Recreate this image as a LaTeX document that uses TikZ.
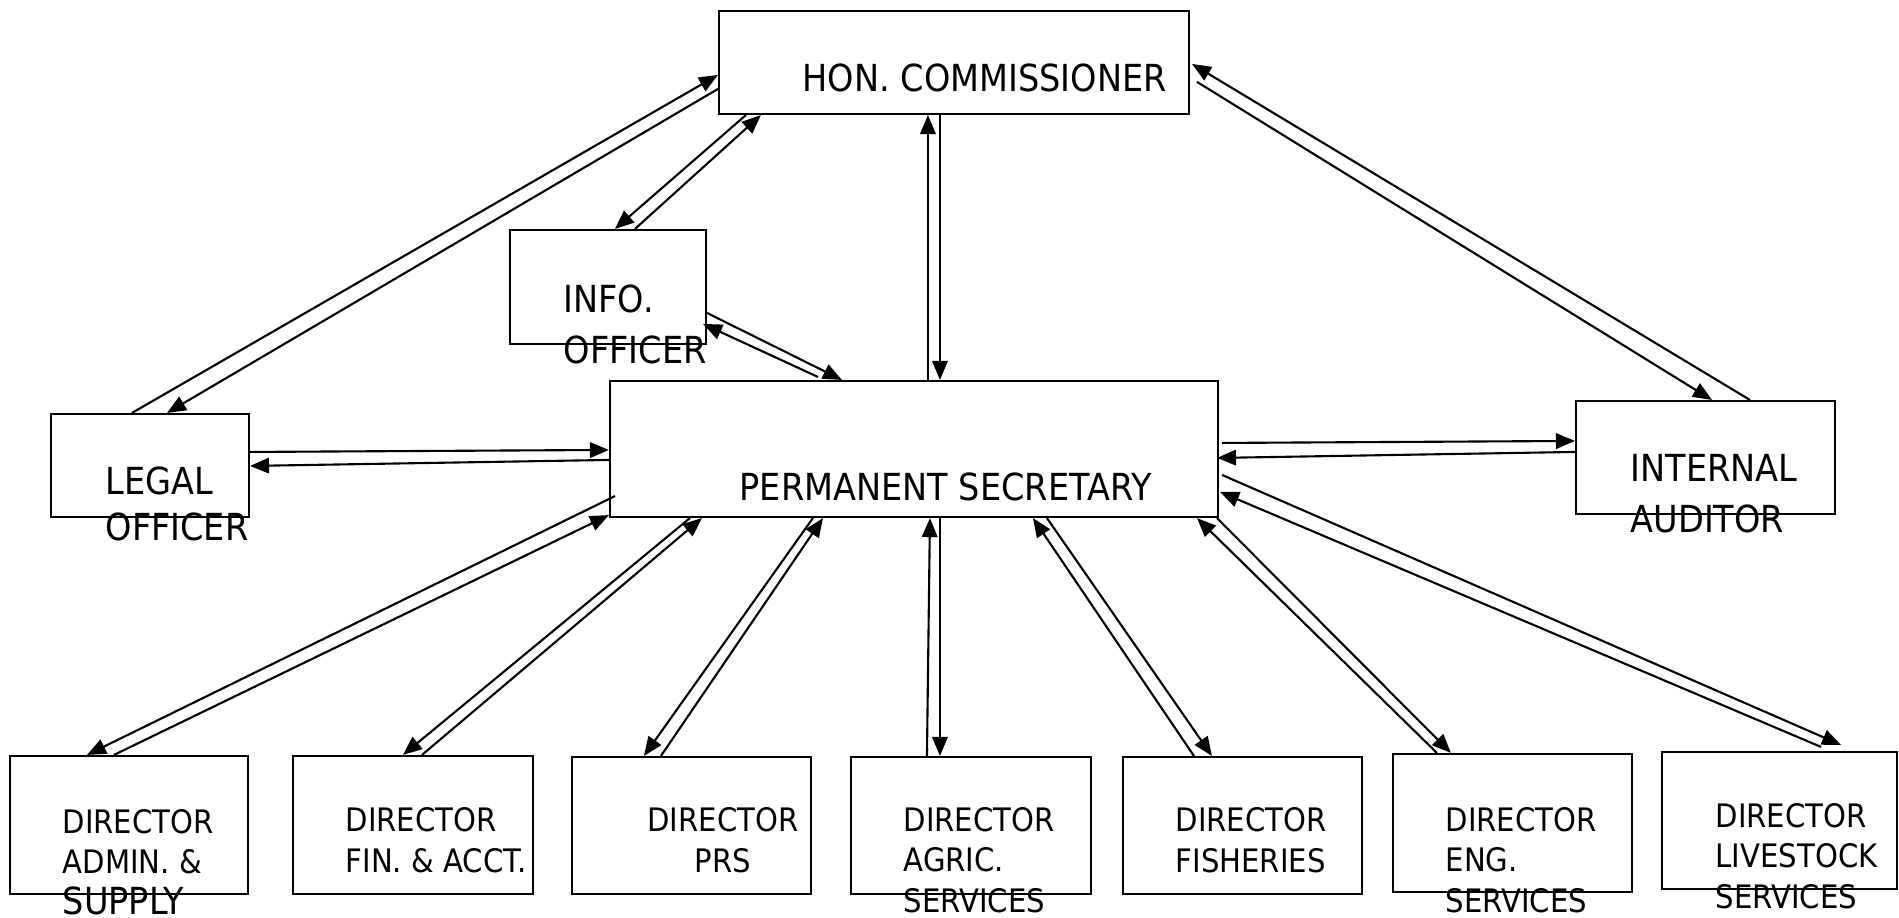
\documentclass[tikz,border=0pt]{standalone}
\usepackage{fontspec}
\setmainfont{DejaVu Sans}[FakeStretch=0.9]
\usetikzlibrary{arrows.meta,calc,fit}

\tikzstyle{box}=[draw, line width=0.6pt, inner sep=0pt]
\tikzstyle{arr}=[-{Triangle[length=5.4pt,width=4.4pt]}, line width=0.6pt]
\tikzstyle{big}=[inner sep=0pt, align=left, font=\fontsize{10.6}{14.5}\selectfont]
\tikzstyle{small}=[inner sep=0pt, align=left, font=\fontsize{9.2}{11.4}\selectfont]

\begin{document}
\begin{tikzpicture}[x=0.01cm, y=-0.01cm]
	% Background, frame
	\fill[white] (0,0) rectangle (1899,918);
	\useasboundingbox (0,0) rectangle (1899,918);

	% Boxes
	\node[box, fit={(719,11) (1189,114)}] (hc) {};
	\node[box, fit={(510,230) (706,344)}] (info) {};
	\node[box, fit={(610,381) (1218,517)}] (ps) {};
	\node[box, fit={(51,414) (249,517)}] (legal) {};
	\node[box, fit={(1576,401) (1835,514)}] (aud) {};
	\foreach \n/\xa/\ya/\xb/\yb in {adm/10/756/248/894, fin/293/756/533/894,
		prs/572/757/811/894, agr/851/757/1091/894, fis/1123/757/1362/894,
		eng/1393/754/1632/892, liv/1662/752/1897/889} {
		\node[box, fit={(\xa,\ya) (\xb,\yb)}] (\n) {};
	}

	% Texts (base = last line)
	\node[big, anchor=base west] (hctext) at (802,91) {HON. COMMISSIONER};
	\node[big, anchor=base west] (pstext) at (739,500) {PERMANENT SECRETARY};
	\node[big, anchor=base west] (infotext) at (563,363) {INFO.\\OFFICER};
	\node[big, anchor=base west, font=\fontsize{10.6}{12.8}\selectfont] (legaltext) at (105,540) {LEGAL\\OFFICER};
	\node[big, anchor=base west] (audtext) at (1630,532) {INTERNAL\\AUDITOR};
	\node[small, anchor=base west] (admtext) at (62,914) {DIRECTOR\\ADMIN. \&\\{\fontsize{10.6}{12}\selectfont SUPPLY}};
	\node[small, anchor=base west] (fintext) at (345,872) {DIRECTOR\\FIN. \& ACCT.};
	\node[small, anchor=base, align=center] (prstext) at (723,872) {DIRECTOR\\PRS};
	\node[small, anchor=base west] (agrtext) at (903,912) {DIRECTOR\\AGRIC.\\SERVICES};
	\node[small, anchor=base west] (fistext) at (1175,872) {DIRECTOR\\FISHERIES};
	\node[small, anchor=base west] (engtext) at (1445,912) {DIRECTOR\\ENG.\\SERVICES};
	\node[small, anchor=base west] (livtext) at (1715,908) {DIRECTOR\\LIVESTOCK\\SERVICES};

	% Commissioner links
	\draw[arr] ($(legal.north west)+(82,0)$) -- ($(hc.north west)+(0,65)$);
	\draw[arr] ($(hc.north west)+(0,79)$) -- ($(legal.north west)+(117,0)$);
	\draw[arr] ($(info.north west)+(126,0)$) -- ($(hc.south west)+(43,0)$);
	\draw[arr] ($(hc.south west)+(28,0)$) -- ($(info.north west)+(106,0)$);
	\draw[arr] ($(ps.north west)+(319,0)$) -- ($(hc.south west)+(210,0)$);
	\draw[arr] ($(hc.south west)+(222,0)$) -- ($(ps.north west)+(331,0)$);
	\draw[arr] ($(aud.north west)+(175,0)$) -- ($(hc.north east)+(2,54)$);
	\draw[arr] ($(hc.north east)+(7,72)$) -- ($(aud.north west)+(137,0)$);

	% Secretary side links
	\draw[arr] ($(info.north east)+(0,84)$) -- ($(ps.north west)+(233,0)$);
	\draw[arr] ($(ps.north west)+(209,-3)$) -- ($(info.north east)+(-4,95)$);
	\draw[arr] ($(legal.north east)+(0,39)$) -- ($(ps.north west)+(0,70)$);
	\draw[arr] ($(ps.north west)+(0,80)$) -- ($(legal.north east)+(0,53)$);
	\draw[arr] ($(ps.north east)+(3,63)$) -- ($(aud.north west)+(0,41)$);
	\draw[arr] ($(aud.north west)+(0,52)$) -- ($(ps.north east)+(-2,78)$);

	% Directors
	\draw[arr] ($(ps.south west)+(6,-22)$) -- ($(adm.north west)+(78,0)$);
	\draw[arr] ($(adm.north west)+(105,0)$) -- ($(ps.south west)+(0,-3)$);
	\foreach \d/\a/\b/\c/\e in {fin/130/93/81/111, prs/90/214/204/73,
		agr/77/321/331/90, fis/72/424/438/90, eng/45/588/608/59} {
		\draw[arr] ($(\d.north west)+(\a,0)$) -- ($(ps.south west)+(\b,0)$);
		\draw[arr] ($(ps.south west)+(\c,0)$) -- ($(\d.north west)+(\e,0)$);
	}
	\draw[arr] ($(ps.north east)+(3,95)$) -- ($(liv.north east)+(-57,-6)$);
	\draw[arr] ($(liv.north east)+(-77,-4)$) -- ($(ps.north east)+(1,112)$);

\end{tikzpicture}
\end{document}
